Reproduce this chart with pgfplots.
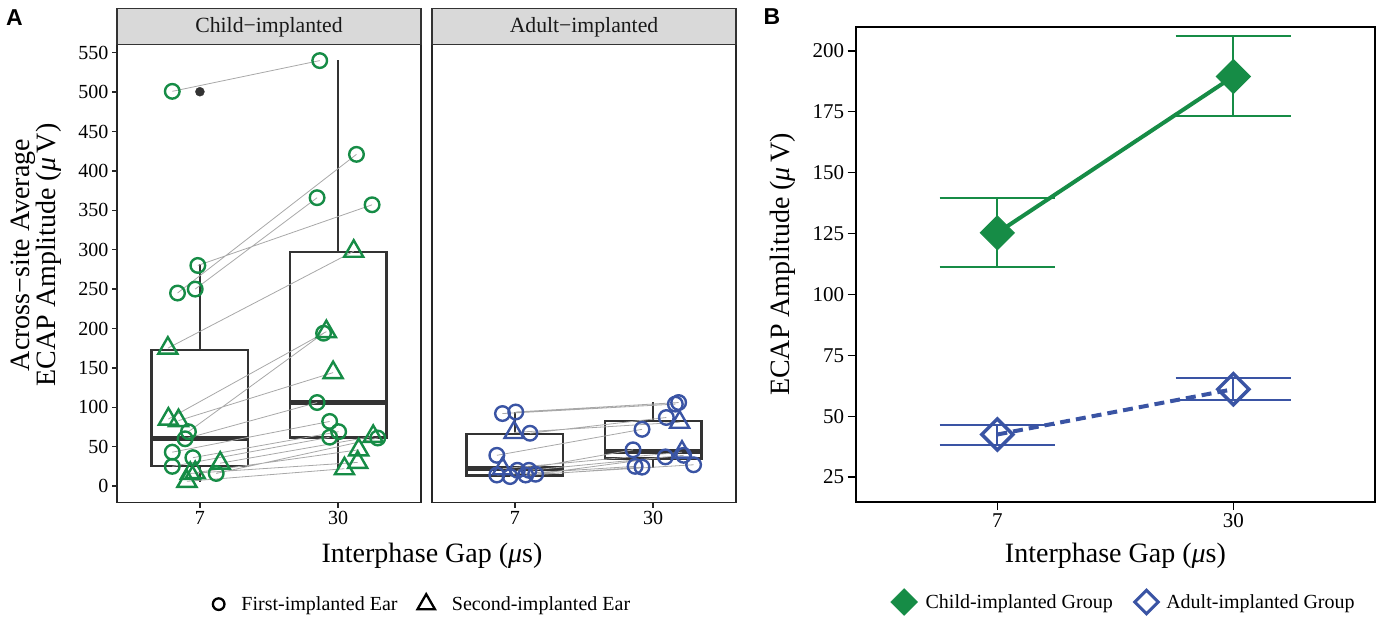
\documentclass[border=0pt]{standalone}
\usepackage{pgfplots}
\pgfplotsset{compat=1.18}
\usepackage{fontspec}
\setmainfont{Liberation Serif}
\newfontfamily\panelfont{Liberation Sans}
\definecolor{cgreen}{RGB}{22,140,70}
\definecolor{cblue}{RGB}{58,84,164}
\definecolor{dgrey}{RGB}{51,51,51}
\definecolor{lgrey}{RGB}{168,168,168}
\definecolor{stripgrey}{RGB}{217,217,217}
\pgfplotsset{
  panelA/.style={scale only axis, width=304pt, height=458.2pt,
    xmin=0.4, xmax=2.6, ymin=-20.9, ymax=560.7,
    xtick={1,2}, xticklabels={7,30},
    tick align=outside, tick pos=left, major tick length=5pt,
    axis line style={line width=1.4pt, black!85},
    tick style={line width=1.3pt, black!85},
    ticklabel style={font=\fontsize{20}{20}\selectfont},
    /pgf/number format/assume math mode=true,
    clip=false},
  boxst/.style={forget plot, dgrey, line width=2.2pt, line cap=rect, unbounded coords=jump},
  medst/.style={forget plot, dgrey, line width=4.5pt, unbounded coords=jump},
  cmark/.style={forget plot, only marks, mark=o, mark size=7.3pt, mark options={line width=2.4pt}},
  tmark/.style={forget plot, only marks, mark=triangle, mark size=11pt, mark options={line width=2.4pt}},
  glines/.style={forget plot, lgrey, line width=0.8pt, unbounded coords=jump},
}
\begin{document}
\begin{tikzpicture}
\useasboundingbox (0,0) rectangle (1381pt,-619pt);
% ---------- Panel A: child ----------
\begin{axis}[panelA, at={(117pt,-502.5pt)}, anchor=south west,
  ytick={0,50,...,550},
  legend columns=2,
  legend style={draw=none, fill=none, at={(1.005,-0.2215)}, anchor=center,
    font=\fontsize{20}{20}\selectfont,
    /tikz/every odd column/.append style={column sep=15pt},
    /tikz/every even column/.append style={column sep=18pt}}]
\addplot[boxst] coordinates {
(1,173) (1,280) (1,nan) (1,25) (1,6) (1,nan)
(0.65,25) (1.35,25) (1.35,173) (0.65,173) (0.65,25) (1,nan)
(2,297.5) (2,540) (2,nan) (2,61.5) (2,22) (2,nan)
(1.65,61.5) (2.35,61.5) (2.35,297.5) (1.65,297.5) (1.65,61.5)};
\addplot[medst] coordinates {(0.65,60.5) (1.35,60.5) (1.5,nan) (1.65,106) (2.35,106)};
\addplot[forget plot, only marks, mark=*, mark size=4.5pt, dgrey] coordinates {(1,500.5)};
\addplot[glines] coordinates {
(0.800,501) (1.867,540) (1.5,nan)
(0.985,280) (2.246,357) (1.5,nan)
(0.838,245) (2.133,421) (1.5,nan)
(0.966,250) (1.848,366) (1.5,nan)
(0.917,69) (1.895,194) (1.5,nan)
(0.893,60) (1.848,106) (1.5,nan)
(0.800,43) (1.939,82) (1.5,nan)
(0.949,36) (2.004,69) (1.5,nan)
(0.800,25) (1.939,62) (1.5,nan)
(1.118,16) (2.287,61) (1.5,nan)
(0.768,175) (2.113,298) (1.5,nan)
(0.772,85) (1.915,196) (1.5,nan)
(0.845,83) (1.964,144) (1.5,nan)
(1.147,29) (2.254,63) (1.5,nan)
(0.966,17) (2.149,46) (1.5,nan)
(0.930,16) (2.142,30) (1.5,nan)
(0.906,6) (2.046,22)
};
\addplot[cmark, cgreen] coordinates {
(0.800,501) (0.985,280) (0.838,245) (0.966,250) (0.917,69) (0.893,60) (0.800,43) (0.949,36) (0.800,25) (1.118,16)
(1.867,540) (2.246,357) (2.133,421) (1.848,366) (1.895,194) (1.848,106) (1.939,82) (2.004,69) (1.939,62) (2.287,61)};
\addplot[tmark, cgreen] coordinates {
(0.768,175) (0.772,85) (0.845,83) (1.147,29) (0.966,17) (0.930,16) (0.906,6)
(2.113,298) (1.915,196) (1.964,144) (2.254,63) (2.149,46) (2.142,30) (2.046,22)};
\addlegendimage{only marks, mark=o, black, mark size=5.8pt, mark options={line width=2.3pt}}
\addlegendentry{First-implanted Ear}
\addlegendimage{only marks, mark=triangle, black, mark size=10pt, mark options={line width=2.3pt}}
\addlegendentry{Second-implanted Ear}
\end{axis}
% ---------- Panel A: adult ----------
\begin{axis}[panelA, at={(432pt,-502.5pt)}, anchor=south west, ytick=\empty]
\addplot[boxst] coordinates {
(1,66.5) (1,93) (1,nan) (1,13.5) (1,12) (1,nan)
(0.65,13.5) (1.35,13.5) (1.35,66.5) (0.65,66.5) (0.65,13.5) (1,nan)
(2,83) (2,105) (2,nan) (2,35) (2,24) (2,nan)
(1.65,35) (2.35,35) (2.35,83) (1.65,83) (1.65,35)};
\addplot[medst] coordinates {(0.65,22) (1.35,22) (1.5,nan) (1.65,44) (2.35,44)};
\addplot[glines] coordinates {
(1.006,94) (2.185,106) (1.5,nan)
(0.910,92) (2.161,104) (1.5,nan)
(1.109,67) (2.096,87) (1.5,nan)
(0.869,39) (1.920,72) (1.5,nan)
(1.018,20) (1.855,46) (1.5,nan)
(1.102,20) (2.221,39) (1.5,nan)
(1.150,15) (2.089,37) (1.5,nan)
(1.078,14) (2.293,27) (1.5,nan)
(0.869,14) (1.870,25) (1.5,nan)
(0.965,12) (1.920,24) (1.5,nan)
(0.994,68) (2.192,81) (1.5,nan)
(0.910,22) (2.209,43)
};
\addplot[cmark, cblue] coordinates {
(1.006,94) (0.910,92) (1.109,67) (0.869,39) (1.018,20) (1.102,20) (1.150,15) (1.078,14) (0.869,14) (0.965,12)
(2.185,106) (2.161,104) (2.096,87) (1.920,72) (1.855,46) (2.221,39) (2.089,37) (2.293,27) (1.870,25) (1.920,24)};
\addplot[tmark, cblue] coordinates {(0.994,68) (0.910,22) (2.192,81) (2.209,43)};
\end{axis}
% strips
\draw[dgrey, line width=1.1pt, fill=stripgrey] (117pt,-8.7pt) rectangle (421pt,-44.3pt);
\draw[dgrey, line width=1.1pt, fill=stripgrey] (432pt,-8.7pt) rectangle (736pt,-44.3pt);
\node[font=\fontsize{21.7}{22}\selectfont, text=black!90] at (269pt,-27pt) {Child−implanted};
\node[font=\fontsize{21.7}{22}\selectfont, text=black!90] at (584pt,-27pt) {Adult−implanted};
% titles A
\node[rotate=90, align=center, font=\fontsize{28}{25}\selectfont] at (36pt,-255pt) {Across−site Average\\ECAP Amplitude (\textit{μ}\,V)};
\node[font=\fontsize{28}{28}\selectfont] at (432pt,-556pt) {Interphase Gap (\textit{μ}s)};
\node[font=\fontsize{23}{23}\selectfont\panelfont\bfseries] at (14.5pt,-18pt) {A};
% ---------- Panel B ----------
\begin{axis}[scale only axis, width=519.3pt, height=474.9pt,
  at={(855.7pt,-501.8pt)}, anchor=south west,
  xmin=0.4, xmax=2.6, ymin=14.86, ymax=209.85,
  xtick={1,2}, xticklabels={7,30}, ytick={25,50,...,200},
  tick align=outside, tick pos=left, major tick length=8pt,
  axis line style={line width=1.6pt, black},
  tick style={line width=1.4pt, black},
  ticklabel style={font=\fontsize{21}{21}\selectfont},
  /pgf/number format/assume math mode=true,
  legend columns=2,
  legend style={draw=none, fill=none, at={(0.516,-0.211)}, anchor=center,
    font=\fontsize{20}{20}\selectfont,
    /tikz/every odd column/.append style={column sep=6pt},
    /tikz/every even column/.append style={column sep=20pt}}]
\addplot[forget plot, cgreen, line width=2pt, unbounded coords=jump] coordinates {
(0.755,139.5) (1.245,139.5) (1,nan) (0.755,111.2) (1.245,111.2) (1,nan) (1,111.2) (1,139.5) (1,nan)
(1.755,206.0) (2.245,206.0) (2,nan) (1.755,173.4) (2.245,173.4) (2,nan) (2,173.4) (2,206.0)};
\addplot[forget plot, cblue, line width=2pt, unbounded coords=jump] coordinates {
(0.755,46.6) (1.245,46.6) (1,nan) (0.755,38.1) (1.245,38.1) (1,nan) (1,38.1) (1,46.6) (1,nan)
(1.755,65.6) (2.245,65.6) (2,nan) (1.755,56.7) (2.245,56.7) (2,nan) (2,56.7) (2,65.6)};
\addplot[forget plot, cgreen, line width=4pt] coordinates {(1,125.3) (2,189.5)};
\addplot[forget plot, cblue, line width=4pt, dash pattern=on 10pt off 6pt] coordinates {(1,42.5) (2,61.1)};
\addplot[forget plot, only marks, mark=square*, mark size=12pt, mark options={rotate=45, fill=cgreen, draw=cgreen, line width=1pt}] coordinates {(1,125.3) (2,189.5)};
\addplot[forget plot, only marks, mark=square, mark size=11pt, mark options={rotate=45, draw=cblue, line width=3.5pt}] coordinates {(1,42.5) (2,61.1)};
\addlegendimage{only marks, mark=square*, mark size=9.5pt, mark options={rotate=45, fill=cgreen, draw=cgreen}}
\addlegendentry{Child-implanted Group}
\addlegendimage{only marks, mark=square, mark size=8.3pt, mark options={rotate=45, draw=cblue, line width=3pt}}
\addlegendentry{Adult-implanted Group}
\end{axis}
\node[rotate=90, font=\fontsize{28}{28}\selectfont] at (783pt,-264.4pt) {ECAP Amplitude (\textit{μ}\,V)};
\node[font=\fontsize{28}{28}\selectfont] at (1115.4pt,-556pt) {Interphase Gap (\textit{μ}s)};
\node[font=\fontsize{23}{23}\selectfont\panelfont\bfseries] at (772pt,-16.4pt) {B};
\end{tikzpicture}
\end{document}
